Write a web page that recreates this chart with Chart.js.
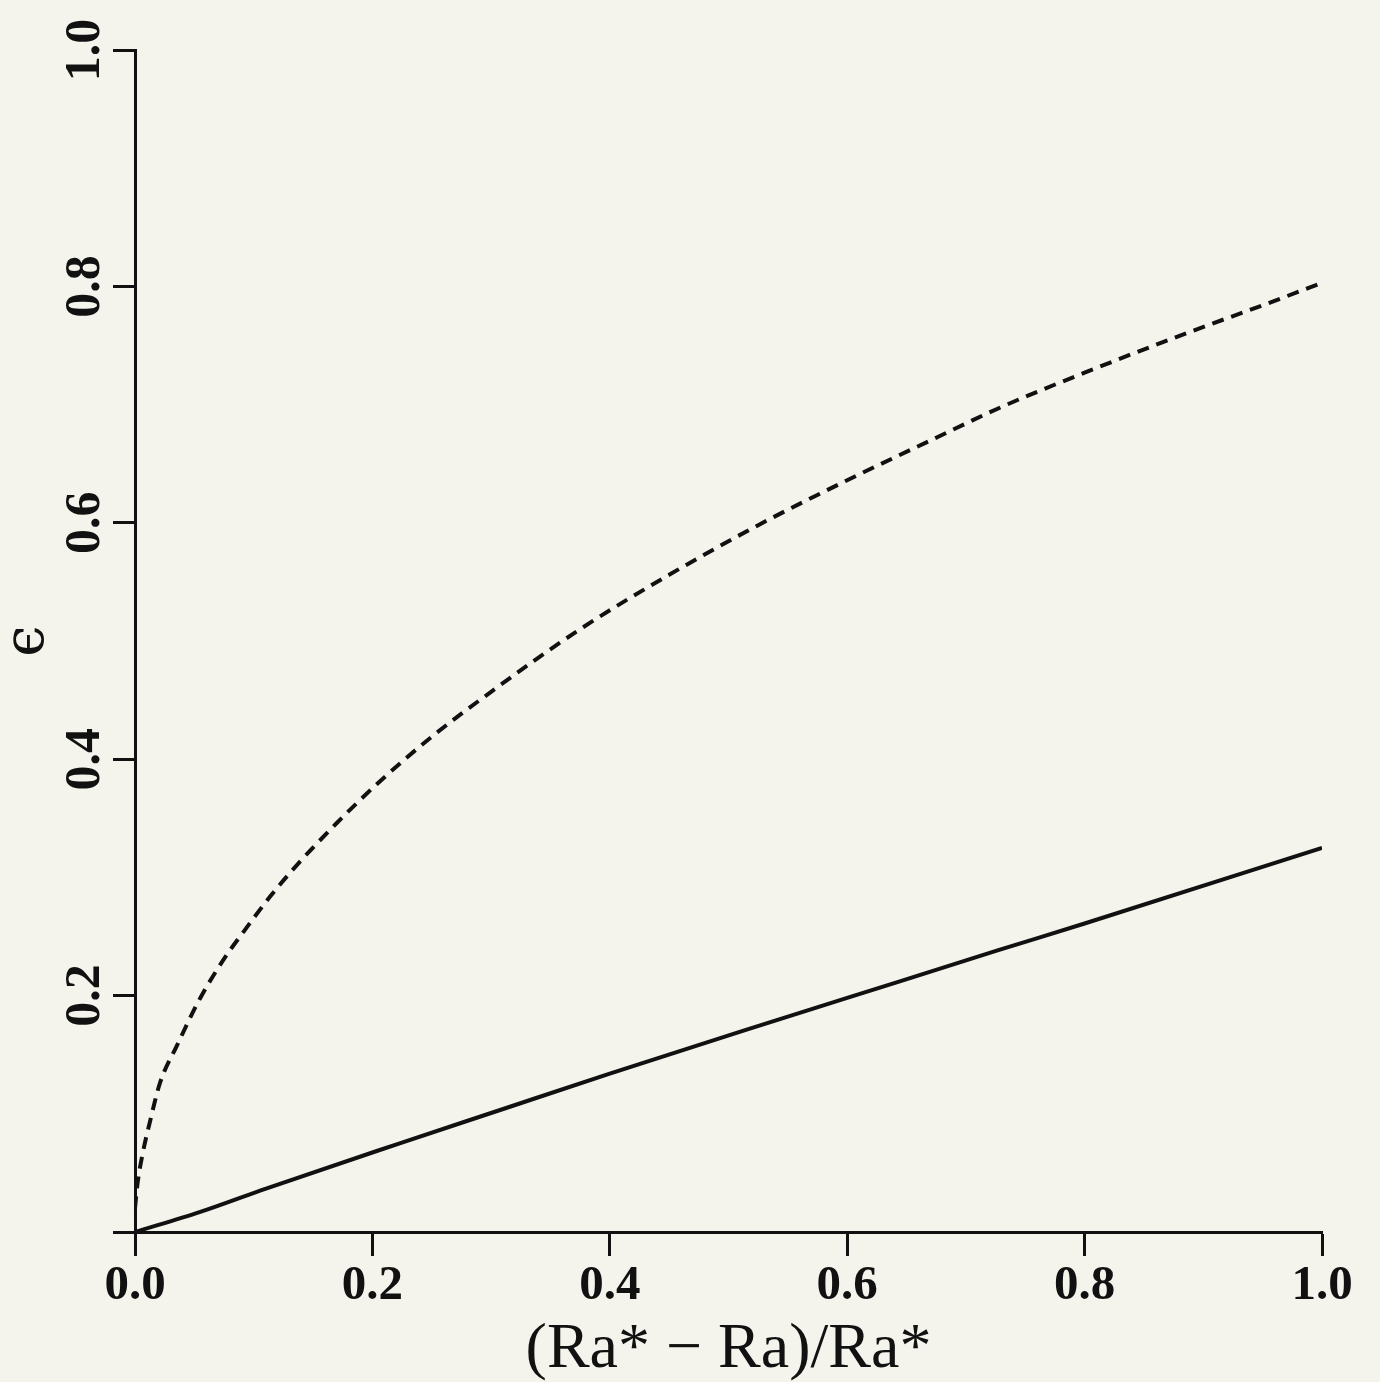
<!DOCTYPE html>
<html>
<head>
<meta charset="utf-8">
<script src="https://cdn.jsdelivr.net/npm/chart.js@4"></script>
<style>
  body { margin: 0; background: #f4f4ec; }
  canvas { display: block; }
</style>
</head>
<body>
<canvas id="grafico" width="1380" height="1382"></canvas>
<script>
// valori
const xTratteggio = [0, 0.002, 0.006, 0.013, 0.021, 0.035, 0.055, 0.075, 0.09, 0.114, 0.136, 0.17, 0.206, 0.25, 0.3, 0.375, 0.45, 0.525, 0.6, 0.675, 0.73, 0.8, 0.89, 0.95, 1.0];
const yTratteggio = [0.02, 0.04, 0.064, 0.095, 0.126, 0.157, 0.198, 0.231, 0.252, 0.284, 0.31, 0.346, 0.381, 0.419, 0.457, 0.51, 0.556, 0.598, 0.636, 0.672, 0.698, 0.727, 0.762, 0.784, 0.803];
const xContinua = [0, 0.055, 0.111, 0.223, 0.307, 0.4, 0.518, 0.6, 0.726, 0.8, 1.0];
const yContinua = [0, 0.017, 0.037, 0.075, 0.103, 0.134, 0.172, 0.198, 0.238, 0.261, 0.325];
const tickX = [0, 0.2, 0.4, 0.6, 0.8, 1.0];
const tickY = [0, 0.2, 0.4, 0.6, 0.8, 1.0];

let puntiTratteggio = [];
for (let i = 0; i < xTratteggio.length; i++) {
  puntiTratteggio.push({x: xTratteggio[i], y: yTratteggio[i]});
}
let puntiContinua = [];
for (let i = 0; i < xContinua.length; i++) {
  puntiContinua.push({x: xContinua[i], y: yContinua[i]});
}

// etichette dell'asse y ruotate di 90 gradi
const etichetteY = {
  id: 'etichetteY',
  afterDraw(chart) {
    const ctx = chart.ctx;
    const sy = chart.scales.y;
    ctx.save();
    ctx.fillStyle = '#111';
    ctx.font = 'bold 50px "Liberation Serif", serif';
    ctx.textAlign = 'center';
    ctx.textBaseline = 'middle';
    for (const v of tickY) {
      if (v === 0) continue;
      ctx.save();
      ctx.translate(86, sy.getPixelForValue(v));
      ctx.rotate(-Math.PI / 2);
      ctx.fillText(v.toFixed(1), 0, 0);
      ctx.restore();
    }
    ctx.restore();
  }
};

new Chart(document.getElementById('grafico'), {
  type: 'line',
  data: {
    datasets: [{
      data: puntiTratteggio,
      borderColor: '#111',
      borderWidth: 4,
      borderDash: [12, 8],
      pointRadius: 0,
      cubicInterpolationMode: 'monotone'
    }, {
      data: puntiContinua,
      borderColor: '#111',
      borderWidth: 4,
      pointRadius: 0,
      cubicInterpolationMode: 'monotone'
    }]
  },
  options: {
    responsive: false,
    animation: false,
    layout: { padding: { top: 50, right: 58, left: 0, bottom: 0 } },
    plugins: {
      legend: { display: false },
      tooltip: { enabled: false }
    },
    scales: {
      x: {
        type: 'linear',
        min: 0,
        max: 1,
        afterBuildTicks: s => { s.ticks = tickX.map(v => ({value: v})); },
        afterFit: s => { s.height = 150; },
        grid: { drawOnChartArea: false, tickLength: 24, tickColor: '#111', tickWidth: 3 },
        border: { display: true, color: '#111', width: 3 },
        ticks: {
          color: '#111',
          padding: 1,
          maxRotation: 0,
          font: { family: '"Liberation Serif", serif', weight: 'bold', size: 49 },
          callback: v => v.toFixed(1)
        },
        title: {
          display: true,
          text: '(Ra* \u2212 Ra)/Ra*',
          color: '#111',
          padding: 0,
          font: { family: '"Liberation Serif", serif', size: 64, lineHeight: 1 }
        }
      },
      y: {
        type: 'linear',
        min: 0,
        max: 1,
        afterBuildTicks: s => { s.ticks = tickY.map(v => ({value: v})); },
        afterFit: s => { s.width = 135; },
        grid: { drawOnChartArea: false, tickLength: 22, tickColor: '#111', tickWidth: 3 },
        border: { display: true, color: '#111', width: 3 },
        ticks: { display: false },
        title: {
          display: true,
          text: '\u03f5',
          color: '#111',
          padding: 0,
          font: { family: '"DejaVu Serif", serif', size: 56, lineHeight: 1 }
        }
      }
    }
  },
  plugins: [etichetteY]
});
</script>
</body>
</html>
